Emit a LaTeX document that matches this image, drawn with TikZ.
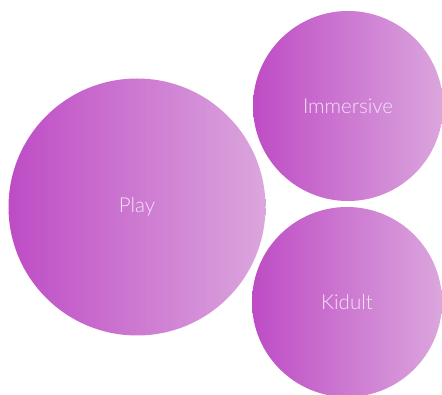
\documentclass[tikz,border=0pt]{standalone}
\usepackage{fontspec}
\setmainfont{Lato}[UprightFont=* Light]
\definecolor{gl}{HTML}{BE4CC5}
\definecolor{gr}{HTML}{DBA6DD}
\definecolor{txt}{HTML}{F8E2F8}
\tikzset{
  bubble/.style={circle, inner sep=0pt, left color=gl, right color=gr, draw=none,
    text=txt, font=\fontsize{20.5}{24}\selectfont}
}
\begin{document}
\begin{tikzpicture}[x=1pt,y=-1pt]
\useasboundingbox (0,0) rectangle (442,395);
\clip (0,0) rectangle (442,395);
\fill[white] (0,0) rectangle (442,395);
\node[bubble, minimum size=257pt] (play) at (137,207) {Play};
\node[bubble, minimum size=190pt] (imm) at (348,106) {Immersive};
\node[bubble, minimum size=190pt] (kid) at (347,302) {Kidult};
\end{tikzpicture}
\end{document}
